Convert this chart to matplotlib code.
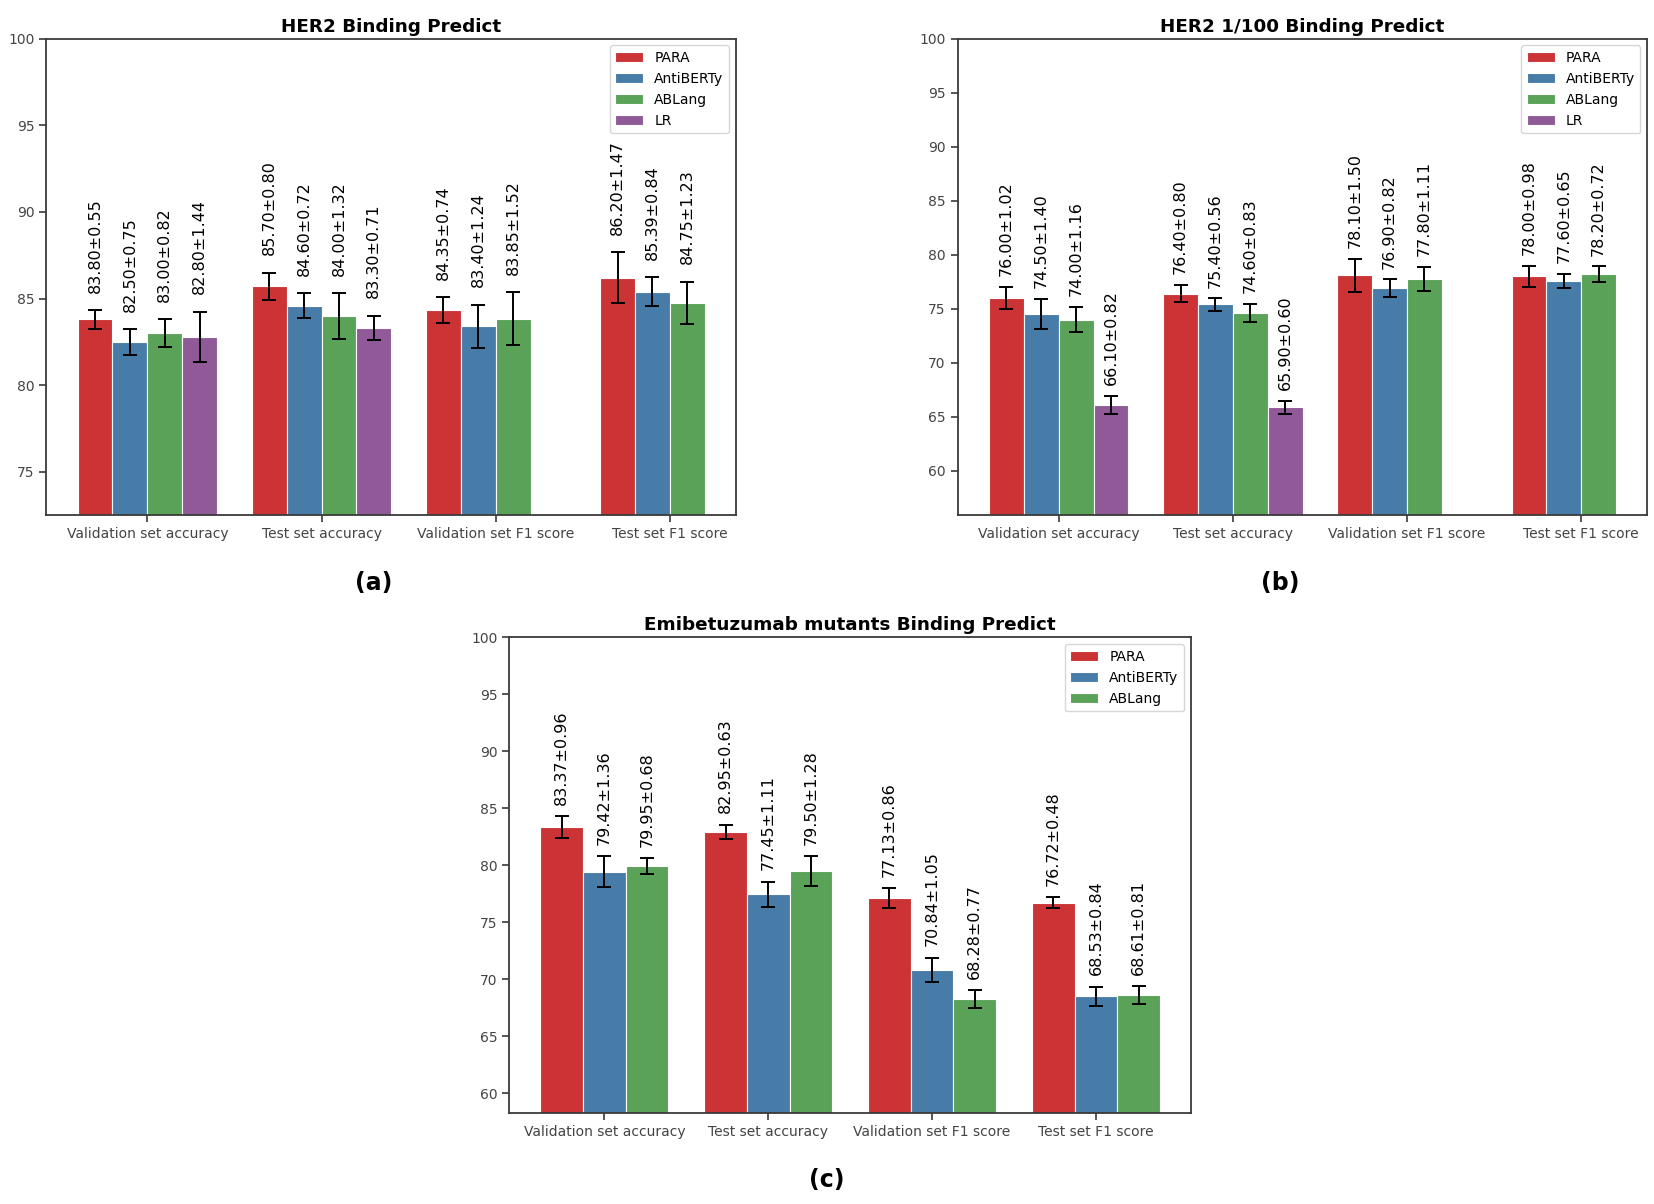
import colorsys
import numpy as np
import matplotlib
matplotlib.use("Agg")
import matplotlib.pyplot as plt
from matplotlib.colors import to_rgb
from matplotlib.ticker import MultipleLocator

categories = ['Validation set accuracy', 'Test set accuracy',
              'Validation set F1 score', 'Test set F1 score']
models = ['PARA', 'AntiBERTy', 'ABLang', 'LR']

# HER2 Binding Predict
her2_mean = {
    'PARA': [83.80, 85.70, 84.35, 86.20],
    'AntiBERTy': [82.50, 84.60, 83.40, 85.39],
    'ABLang': [83.00, 84.00, 83.85, 84.75],
    'LR': [82.80, 83.30],
}
her2_err = {
    'PARA': [0.55, 0.80, 0.74, 1.47],
    'AntiBERTy': [0.75, 0.72, 1.24, 0.84],
    'ABLang': [0.82, 1.32, 1.52, 1.23],
    'LR': [1.44, 0.71],
}

# HER2 1/100 Binding Predict
her2_100_mean = {
    'PARA': [76.00, 76.40, 78.10, 78.00],
    'AntiBERTy': [74.50, 75.40, 76.90, 77.60],
    'ABLang': [74.00, 74.60, 77.80, 78.20],
    'LR': [66.10, 65.90],
}
her2_100_err = {
    'PARA': [1.02, 0.80, 1.50, 0.98],
    'AntiBERTy': [1.40, 0.56, 0.82, 0.65],
    'ABLang': [1.16, 0.83, 1.11, 0.72],
    'LR': [0.82, 0.60],
}

# Emibetuzumab mutants Binding Predict
emi_mean = {
    'PARA': [83.37, 82.95, 77.13, 76.72],
    'AntiBERTy': [79.42, 77.45, 70.84, 68.53],
    'ABLang': [79.95, 79.50, 68.28, 68.61],
}
emi_err = {
    'PARA': [0.96, 0.63, 0.86, 0.48],
    'AntiBERTy': [1.36, 1.11, 1.05, 0.84],
    'ABLang': [0.68, 1.28, 0.77, 0.81],
}

set1 = ['#E41A1C', '#377EB8', '#4DAF4A', '#984EA3']


def desat(c, prop=0.75):
    h, l, s = colorsys.rgb_to_hls(*to_rgb(c))
    return colorsys.hls_to_rgb(h, l, s * prop)


colors = dict(zip(models, [desat(c) for c in set1]))

plt.rcParams['font.family'] = 'DejaVu Sans'
plt.rcParams['axes.edgecolor'] = '#3a3a3a'
plt.rcParams['axes.linewidth'] = 1.3
plt.rcParams['xtick.color'] = '#3a3a3a'
plt.rcParams['ytick.color'] = '#3a3a3a'
plt.rcParams['xtick.labelcolor'] = '#444444'
plt.rcParams['ytick.labelcolor'] = '#444444'


def draw(ax, title, means, errs, width):
    names = [m for m in models if m in means]
    n = 4 if 'LR' in means else 3
    x = np.arange(len(categories))
    for i, name in enumerate(names):
        vals = np.array(means[name])
        err = np.array(errs[name])
        pos = x[:len(vals)] + (i - (n - 1) / 2) * width
        ax.bar(pos, vals, width, yerr=err, color=colors[name], label=name,
               edgecolor='white', linewidth=0.8, capsize=5,
               error_kw=dict(ecolor='black', elinewidth=1.4, capthick=1.4))
        for p, v, e in zip(pos, vals, err):
            ax.text(p, v + e + 1.0, f'{v:.2f}±{e:.2f}', rotation=90,
                    ha='center', va='bottom', fontsize=11.5, color='black')
    low = min(min(v) for v in means.values()) - 10
    ax.set_ylim(low, 100)
    ax.yaxis.set_major_locator(MultipleLocator(5))
    ax.set_xticks(x)
    ax.set_xticklabels(categories, fontsize=10)
    ax.tick_params(axis='y', labelsize=10)
    ax.tick_params(direction='out', length=5, width=1.2)
    ax.set_title(title, fontsize=13.2, fontweight='bold', pad=5)
    ax.legend(loc='upper right', fontsize=10)


fig = plt.figure(figsize=(16.54, 12.04), dpi=100)
ax1 = fig.add_axes([0.028, 0.572, 0.417, 0.396])
ax2 = fig.add_axes([0.579, 0.572, 0.417, 0.396])
ax3 = fig.add_axes([0.308, 0.0756, 0.412, 0.395])

draw(ax1, 'HER2 Binding Predict', her2_mean, her2_err, 0.2)
draw(ax2, 'HER2 1/100 Binding Predict', her2_100_mean, her2_100_err, 0.2)
draw(ax3, 'Emibetuzumab mutants Binding Predict', emi_mean, emi_err, 0.26)

fig.text(0.226, 0.516, '(a)', fontsize=17, fontweight='bold', ha='center', va='center')
fig.text(0.774, 0.516, '(b)', fontsize=17, fontweight='bold', ha='center', va='center')
fig.text(0.500, 0.020, '(c)', fontsize=17, fontweight='bold', ha='center', va='center')

fig.savefig('out.png', dpi=100)
